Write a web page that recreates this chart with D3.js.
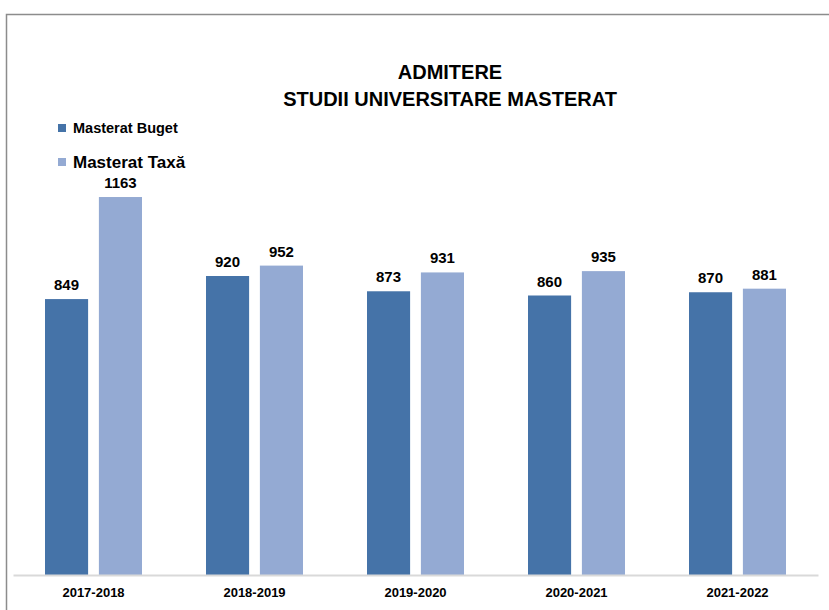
<!DOCTYPE html>
<html>
<head>
<meta charset="utf-8">
<script src="https://cdn.jsdelivr.net/npm/d3@7"></script>
<style>
  html, body { margin: 0; padding: 0; background: #ffffff; }
  svg { display: block; font-family: "Liberation Sans", Arial, sans-serif; }
</style>
</head>
<body>
<svg id="chart" width="829" height="610"></svg>
<script>
const categories = ["2017-2018", "2018-2019", "2019-2020", "2020-2021", "2021-2022"];
const seriesNames = ["Masterat Buget", "Masterat Taxă"];
const bugetValues = [849, 920, 873, 860, 870];
const taxaValues = [1163, 952, 931, 935, 881];
const seriesColors = ["#4573A8", "#94AAD3"];
const titleLines = ["ADMITERE", "STUDII UNIVERSITARE MASTERAT"];

const seriesValues = [bugetValues, taxaValues];
const data = categories.map((c, i) => ({
  cat: c,
  vals: seriesNames.map((s, j) => ({ series: s, idx: j, value: seriesValues[j][i] }))
}));

const svg = d3.select("#chart");

// outer chart border (top & left visible)
svg.append("path")
  .attr("d", "M6.5,610 L6.5,14.5 L829,14.5")
  .attr("fill", "none")
  .attr("stroke", "#8c8c8c")
  .attr("stroke-width", 1.5);

const x0 = d3.scaleBand().domain(categories).range([13, 818]).paddingInner(0).paddingOuter(0);
const x1 = d3.scaleBand().domain(seriesNames).range([32, 129]).paddingInner(0.2).paddingOuter(0);
const y = d3.scaleLinear().domain([0, 1400]).range([575, 120]);

// title
svg.append("g").selectAll("text").data(titleLines).join("text")
  .attr("x", 450)
  .attr("y", (d, i) => 79 + i * 27)
  .attr("text-anchor", "middle")
  .attr("font-weight", "bold")
  .attr("font-size", 20)
  .attr("fill", "#000")
  .text(d => d);

// bars
const groups = svg.append("g").selectAll("g").data(data).join("g")
  .attr("transform", d => `translate(${x0(d.cat)},0)`);

groups.selectAll("rect").data(d => d.vals).join("rect")
  .attr("x", d => x1(d.series))
  .attr("y", d => y(d.value))
  .attr("width", x1.bandwidth())
  .attr("height", d => y(0) - y(d.value))
  .attr("fill", d => seriesColors[d.idx]);

groups.selectAll("text").data(d => d.vals).join("text")
  .attr("x", d => x1(d.series) + x1.bandwidth() / 2)
  .attr("y", d => y(d.value) - 9)
  .attr("text-anchor", "middle")
  .attr("font-weight", "bold")
  .attr("font-size", 15)
  .attr("fill", "#000")
  .text(d => d.value);

// x axis
const xAxis = d3.axisBottom(x0).tickSize(0).tickPadding(13);
const ax = svg.append("g").attr("transform", `translate(0,${y(0)})`).call(xAxis);
ax.select(".domain").attr("stroke", "#d9d9d9").attr("stroke-width", 2);
ax.selectAll("text")
  .attr("font-family", "'Liberation Sans', Arial, sans-serif")
  .attr("font-weight", "bold")
  .attr("font-size", 13)
  .attr("fill", "#000");

// legend
const legendY = [128, 162];
const legendSizes = [14.5, 17];
const lg = svg.append("g").selectAll("g").data(seriesNames).join("g")
  .attr("transform", (d, i) => `translate(58,${legendY[i]})`);
lg.append("rect")
  .attr("x", 0).attr("y", -4).attr("width", 8).attr("height", 8)
  .attr("fill", (d, i) => seriesColors[i]);
lg.append("text")
  .attr("x", 15)
  .attr("y", 0)
  .attr("dy", "0.35em")
  .attr("font-weight", "bold")
  .attr("font-size", (d, i) => legendSizes[i])
  .attr("fill", "#000")
  .text(d => d);
</script>
</body>
</html>
